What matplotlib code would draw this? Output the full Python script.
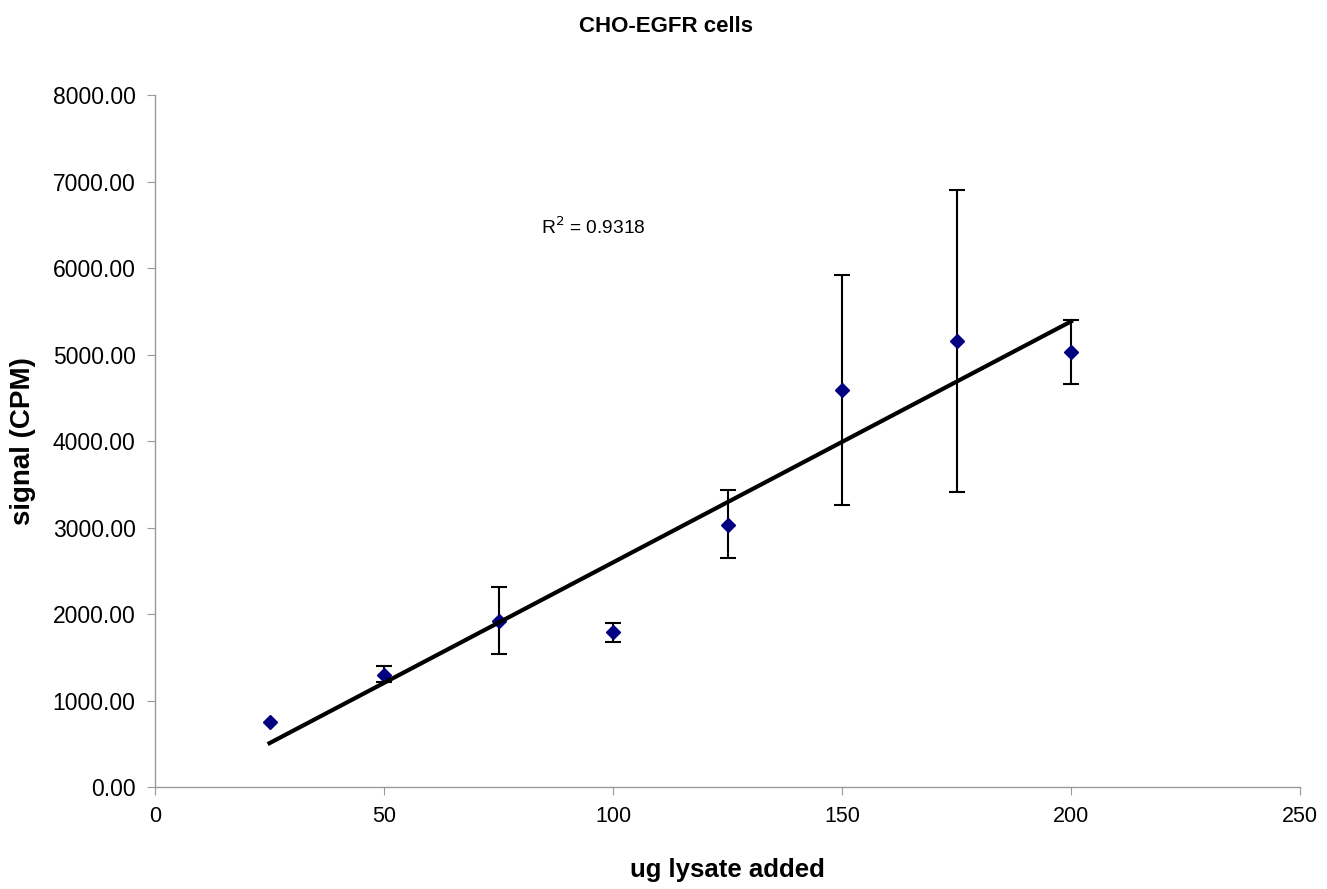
import numpy as np
import matplotlib
matplotlib.use("Agg")
import matplotlib.pyplot as plt

plt.rcParams['font.family'] = ['Liberation Sans', 'DejaVu Sans']

x_ug = [25, 50, 75, 100, 125, 150, 175, 200]
signal = [750, 1295, 1919, 1792, 3029, 4590, 5156, 5029]
err_upper = [0, 105, 395, 105, 405, 1330, 1745, 370]
err_lower = [0, 85, 380, 115, 385, 1330, 1745, 370]
r2_text = "R$^2$ = 0.9318"
title = "CHO-EGFR cells"
xlabel = "ug lysate added"
ylabel = "signal (CPM)"

fig = plt.figure(figsize=(13.27, 8.89), dpi=100)
ax = fig.add_axes([0.1168, 0.1147, 0.8629, 0.7784])

has_err = [i for i in range(len(x_ug)) if err_upper[i] > 0 or err_lower[i] > 0]
ax.errorbar([x_ug[i] for i in has_err], [signal[i] for i in has_err],
            yerr=[[err_lower[i] for i in has_err], [err_upper[i] for i in has_err]],
            fmt='none', ecolor='black', elinewidth=1.5, capsize=6, capthick=1.5,
            zorder=2)
ax.plot(x_ug, signal, linestyle='none', marker='D', markersize=7,
        color='#000080', zorder=3)

coef = np.polyfit(x_ug, signal, 1)
xs = np.array([x_ug[0], x_ug[-1]])
ax.plot(xs, np.polyval(coef, xs), color='black', lw=3, zorder=4)

ax.text(84.3, 6474, r2_text, fontsize=13.8, va='center', ha='left')

ax.set_xlim(0, 250)
ax.set_ylim(0, 8000)
ax.set_xticks(range(0, 251, 50))
ax.set_yticks(range(0, 8001, 1000))
ax.set_yticklabels([f"{v:.2f}" for v in range(0, 8001, 1000)])
for s in ['top', 'right']:
    ax.spines[s].set_visible(False)
for s in ['left', 'bottom']:
    ax.spines[s].set_color('#999999')
    ax.spines[s].set_linewidth(1)
ax.tick_params(axis='both', direction='out', length=6, color='#999999', pad=8)
ax.tick_params(axis='y', labelsize=16.5)
ax.tick_params(axis='x', labelsize=15.5)

ax.set_xlabel(xlabel, fontsize=18.5, fontweight='bold', labelpad=22)
ax.set_ylabel(ylabel, fontsize=20, fontweight='bold', labelpad=12)
fig.text(0.502, 0.97, title, fontsize=16, fontweight='bold', ha='center', va='center')

fig.savefig('out.png', dpi=100)
